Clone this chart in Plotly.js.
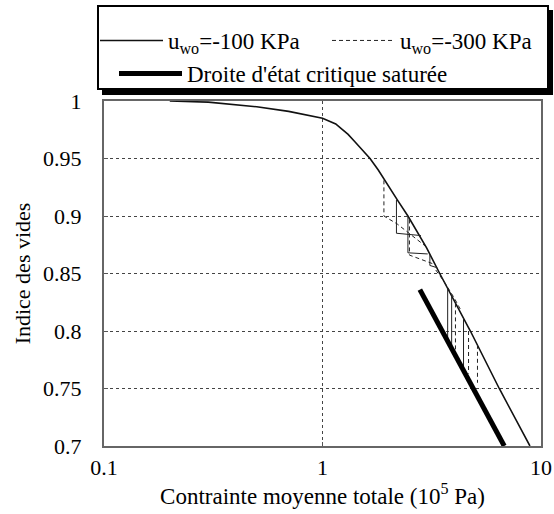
<!DOCTYPE html>
<html>
<head>
<meta charset="utf-8">
<script src="https://cdn.plot.ly/plotly-3.0.1.min.js"></script>
<style>html,body{margin:0;padding:0;background:#fff;}#chart{width:554px;height:514px;}</style>
</head>
<body>
<div id="chart"></div>
<script>
// Main compression curve (u_wo = -100 kPa)
const curveP = [0.2, 0.3, 0.5, 0.7, 1.0, 1.15, 1.2, 1.31, 1.4, 1.5, 1.65, 1.8, 2.0, 2.2, 2.46, 3.0, 3.44, 4.75, 6.44, 8.9];
const curveE = [1.0, 0.999, 0.995, 0.991, 0.985, 0.980, 0.977, 0.971, 0.965, 0.959, 0.950, 0.940, 0.926, 0.914, 0.900, 0.872, 0.850, 0.800, 0.750, 0.700];

// Stress paths, u_wo = -100 kPa (solid), segments separated by null
const solidP = [2.18, 2.18, 2.82, null, 2.46, 2.46, 3.03, null, 3.1, 3.1, 3.35, null, 3.74, 3.74, null, 3.90, 3.90, null, 4.42, 4.42];
const solidE = [0.914, 0.885, 0.883, null, 0.900, 0.868, 0.867, null, 0.866, 0.857, 0.855, null, 0.837, 0.791, null, 0.831, 0.784, null, 0.811, 0.765];

// Stress paths, u_wo = -300 kPa (dashed)
const dashP = [1.91, 1.91, 2.2, 2.95, null, 2.5, 2.5, 3.25, null, 3.3, 3.6, 4.0, 4.3, null, 4.06, 4.06, null, 4.66, 4.66, null, 5.12, 5.12];
const dashE = [0.931, 0.900, 0.893, 0.874, null, 0.897, 0.866, 0.858, null, 0.853, 0.843, 0.829, 0.818, null, 0.824, 0.780, null, 0.800, 0.763, null, 0.788, 0.755];

// Saturated critical state line
const cslP = [2.79, 6.79];
const cslE = [0.836, 0.700];

const yTicks = [0.7, 0.75, 0.8, 0.85, 0.9, 0.95, 1];
const yTickText = ['0.7', '0.75', '0.8', '0.85', '0.9', '0.95', '1'];
const xTicks = [0.1, 1, 10];
const xTickText = ['0.1', '1', '10'];

const serif = "'Liberation Serif', 'Times New Roman', serif";

const traces = [
  {x: curveP, y: curveE, mode: 'lines', name: 'u<sub>wo</sub>=-100 KPa',
   line: {color: '#111', width: 1.6}, legend: 'legend'},
  {x: solidP, y: solidE, mode: 'lines', showlegend: false, connectgaps: false,
   line: {color: '#222', width: 1}, legend: 'legend'},
  {x: dashP, y: dashE, mode: 'lines', name: 'u<sub>wo</sub>=-300 KPa', connectgaps: false,
   line: {color: '#222', width: 1, dash: '4px,3px'}, legend: 'legend2'},
  {x: cslP, y: cslE, mode: 'lines', name: "Droite d'état critique saturée",
   line: {color: '#000', width: 5}, legend: 'legend3'}
];

function px(xp) { return (xp - 104) / 437; }
function py(yp) { return (446 - yp) / 345; }

function leg(xpx, ypx) {
  return {
    orientation: 'h', xref: 'container', yref: 'container',
    x: xpx / 554, y: 1 - ypx / 514, xanchor: 'left', yanchor: 'top',
    bgcolor: 'rgba(0,0,0,0)', borderwidth: 0, itemwidth: 63,
    font: {family: serif, size: 23, color: '#000'}
  };
}

const layout = {
  width: 554, height: 514,
  margin: {l: 104, r: 13, t: 101, b: 68},
  paper_bgcolor: '#fff', plot_bgcolor: '#fff',
  font: {family: serif, color: '#000', size: 22},
  xaxis: {
    type: 'log', range: [-1, 1],
    tickvals: xTicks, ticktext: xTickText,
    tickfont: {family: serif, size: 22, color: '#000'},
    showgrid: true, gridcolor: '#444', griddash: 'dot', gridwidth: 1,
    showline: true, linecolor: '#666', linewidth: 2, mirror: true,
    ticks: 'inside', ticklen: 4, tickcolor: '#555',
    ticklabelstandoff: 1,
    zeroline: false,
    title: {text: 'Contrainte moyenne totale (10<sup>5</sup> Pa)', font: {family: serif, size: 23, color: '#000'}, standoff: 0}
  },
  yaxis: {
    range: [0.7, 1],
    tickvals: yTicks, ticktext: yTickText,
    tickfont: {family: serif, size: 22, color: '#000'},
    showgrid: true, gridcolor: '#444', griddash: 'dot', gridwidth: 1,
    showline: true, linecolor: '#666', linewidth: 2, mirror: true,
    ticks: 'inside', ticklen: 4, tickcolor: '#555',
    ticklabelstandoff: 16,
    zeroline: false,
    title: {text: 'Indice des vides', font: {family: serif, size: 22, color: '#000'}, standoff: 6}
  },
  showlegend: true,
  legend: leg(95, 19),
  legend2: leg(327, 19),
  legend3: leg(114, 52),
  shapes: [
    {type: 'rect', xref: 'paper', yref: 'paper', layer: 'below',
     x0: px(102), x1: px(553), y0: py(95), y1: py(10),
     fillcolor: '#000', line: {width: 0}},
    {type: 'rect', xref: 'paper', yref: 'paper', layer: 'below',
     x0: px(98), x1: px(548), y0: py(89), y1: py(6),
     fillcolor: '#fff', line: {color: '#000', width: 2}}
  ]
};

Plotly.newPlot('chart', traces, layout, {displayModeBar: false, staticPlot: true});
</script>
</body>
</html>
